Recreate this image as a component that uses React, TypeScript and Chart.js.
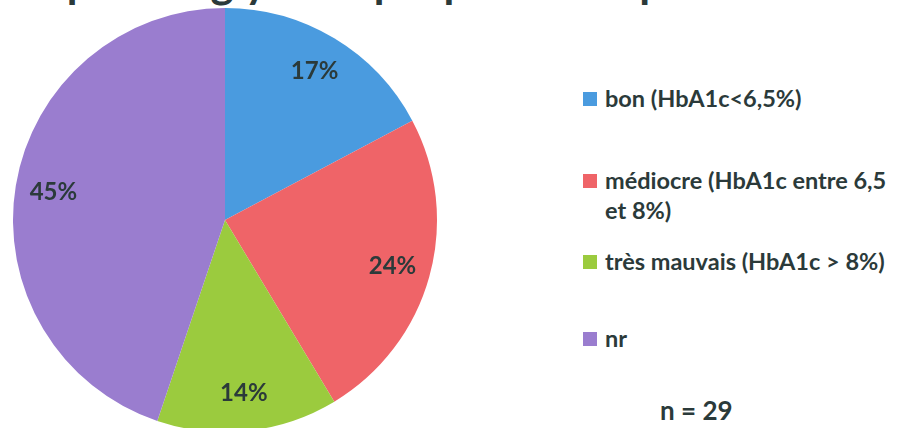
import React, { useEffect, useRef } from "react";
import { Chart, registerables } from "chart.js";

Chart.register(...registerables);

const TITLE = "Équilibre glycémique pré-conceptionnel.";
const CATEGORIES = [
  "bon (HbA1c<6,5%)",
  "médiocre (HbA1c entre 6,5 et 8%)",
  "très mauvais (HbA1c > 8%)",
  "nr",
];
const COUNTS = [5, 7, 4, 13];
const COLORS = ["#4A9BDF", "#EF6468", "#9BCB3E", "#9A7DCF"];
const N_LABEL = "n = 29";

const TEXT_COLOR = "#2B3A3A";
const FONT = "Lato, 'Open Sans', sans-serif";

const LEGEND_TOPS = [82.9, 164.9, 245.9, 322.9];

const pctLabels = {
  id: "pctLabels",
  afterDatasetsDraw(chart: any) {
    const ctx = chart.ctx;
    const meta = chart.getDatasetMeta(0);
    const data = chart.data.datasets[0].data as number[];
    const total = data.reduce((a, b) => a + b, 0);
    ctx.save();
    ctx.font = `bold 24px ${FONT}`;
    ctx.fillStyle = TEXT_COLOR;
    ctx.textAlign = "center";
    ctx.textBaseline = "middle";
    meta.data.forEach((arc: any, i: number) => {
      const p = arc.getProps(["x", "y", "startAngle", "endAngle", "outerRadius"], true);
      const mid = (p.startAngle + p.endAngle) / 2;
      const r = p.outerRadius * 0.82;
      const x = p.x + Math.cos(mid) * r;
      const y = p.y + Math.sin(mid) * r;
      ctx.fillText(Math.round((data[i] / total) * 100) + "%", x, y);
    });
    ctx.restore();
  },
};

export default function App() {
  const ref = useRef<HTMLCanvasElement>(null);
  useEffect(() => {
    if (!ref.current) return;
    const chart = new Chart(ref.current, {
      type: "pie",
      data: {
        labels: CATEGORIES,
        datasets: [
          {
            data: COUNTS,
            backgroundColor: COLORS,
            borderWidth: 0,
          },
        ],
      },
      options: {
        animation: false,
        responsive: false,
        layout: { padding: 0 },
        plugins: {
          legend: { display: false },
          tooltip: { enabled: false },
          title: { display: false },
        },
      },
      plugins: [pctLabels],
    });
    return () => chart.destroy();
  }, []);

  return (
    <div
      style={{
        position: "fixed",
        left: 0,
        top: 0,
        width: 903,
        height: 428,
        overflow: "hidden",
        background: "#fff",
        fontFamily: FONT,
        color: TEXT_COLOR,
      }}
    >
      <div
        style={{
          position: "absolute",
          left: 0,
          top: -44,
          width: 840,
          textAlign: "center",
          fontSize: 44,
          lineHeight: "50px",
          fontWeight: 700,
          whiteSpace: "nowrap",
        }}
      >
        {TITLE}
      </div>
      <canvas
        ref={ref}
        width={450}
        height={424}
        style={{ position: "absolute", left: 0, top: 8, width: 450, height: 424 }}
      />
      {CATEGORIES.map((c, i) => (
        <div key={c} style={{ position: "absolute", left: 583, top: LEGEND_TOPS[i], width: 318 }}>
          <div
            style={{
              position: "absolute",
              left: 0,
              top: 9.1,
              width: 14,
              height: 14,
              background: COLORS[i],
            }}
          />
          <div
            style={{
              marginLeft: 22,
              fontSize: 23.5,
              lineHeight: "30px",
              fontWeight: 700,
            }}
          >
            {c}
          </div>
        </div>
      ))}
      <div
        style={{
          position: "absolute",
          left: 660,
          top: 394.9,
          fontSize: 26,
          lineHeight: "30px",
          fontWeight: 700,
          whiteSpace: "nowrap",
        }}
      >
        {N_LABEL}
      </div>
    </div>
  );
}
